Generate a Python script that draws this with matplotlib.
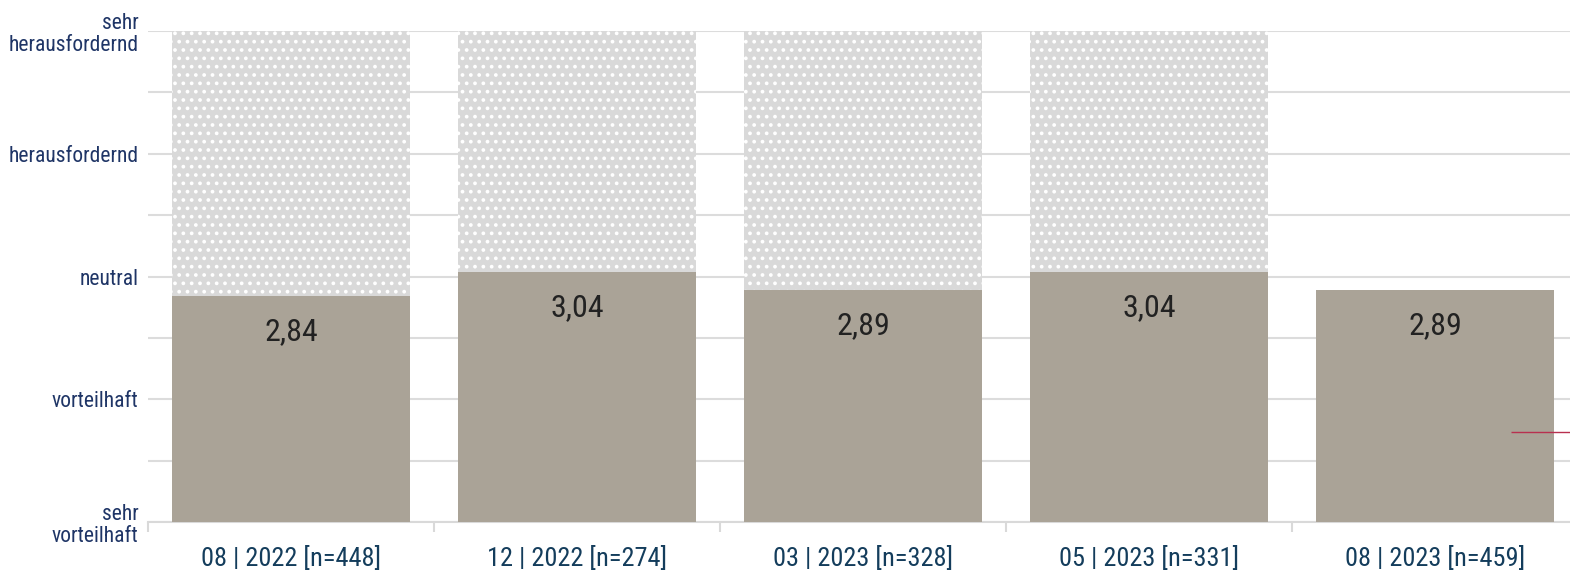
import matplotlib.pyplot as plt
import numpy as np

plt.rcParams['font.family'] = ['Roboto Condensed', 'Roboto', 'DejaVu Sans']
plt.rcParams['hatch.color'] = 'white'
plt.rcParams['hatch.linewidth'] = 1.5

categories = ["08 | 2022 [n=448]", "12 | 2022 [n=274]", "03 | 2023 [n=328]",
              "05 | 2023 [n=331]", "08 | 2023 [n=459]"]
values = [2.84, 3.04, 2.89, 3.04, 2.89]
show_range = [True, True, True, True, False]
scale_ticks = [1, 2, 3, 4, 5]
scale_labels = ["sehr\nvorteilhaft", "vorteilhaft", "neutral", "herausfordernd",
                "sehr\nherausfordernd"]
ref_value = 1.73

fig = plt.figure(figsize=(15.7, 5.7), dpi=100)
ax = fig.add_axes([0.0943, 0.0842, 0.9108, 0.8614])

x = np.arange(len(categories))
width = 0.83

# dotted background range up to the scale maximum
for xi, v, s in zip(x, values, show_range):
    if s:
        ax.bar(xi, 5 - v, bottom=v, width=width, color='#d9d9d9', hatch='..',
               edgecolor='white', linewidth=0, zorder=2)

bars = ax.bar(x, np.array(values) - 1, bottom=1, width=width, color='#aaa397',
              linewidth=0, zorder=3)

for xi, v in zip(x, values):
    ax.text(xi, v - 0.36, f"{v:.2f}".replace('.', ','), ha='center', va='baseline',
            fontsize=23, color='#222222', zorder=4)

ax.hlines(ref_value, x[-1] + 0.265, x[-1] + 0.6, color='#b8304f', linewidth=1, zorder=5)

ax.set_xlim(-0.5, len(categories) - 0.5)
ax.set_ylim(1, 5)
ax.set_yticks(scale_ticks)
ax.set_yticklabels(scale_labels, fontsize=15.5, color='#1f3566', linespacing=1.1)
ax.set_yticks(np.arange(1.5, 5, 1), minor=True)
ax.grid(axis='y', which='both', color='#dcdcdc', linewidth=1.5, zorder=0)
ax.set_axisbelow(True)

ax.set_xticks(x)
ax.set_xticklabels(categories, fontsize=19, color='#143d5c')
ax.set_xticks(np.arange(-0.5, len(categories), 1), minor=True)
ax.tick_params(axis='x', which='major', length=0, pad=17)
ax.tick_params(axis='x', which='minor', length=7, color='#d9d9d9', width=1.5)
ax.tick_params(axis='y', which='both', length=0, pad=7)

for side in ['left', 'right', 'top']:
    ax.spines[side].set_visible(False)
ax.spines['bottom'].set_color('#d9d9d9')
ax.spines['bottom'].set_linewidth(1.5)

fig.savefig('out.png', dpi=100)
